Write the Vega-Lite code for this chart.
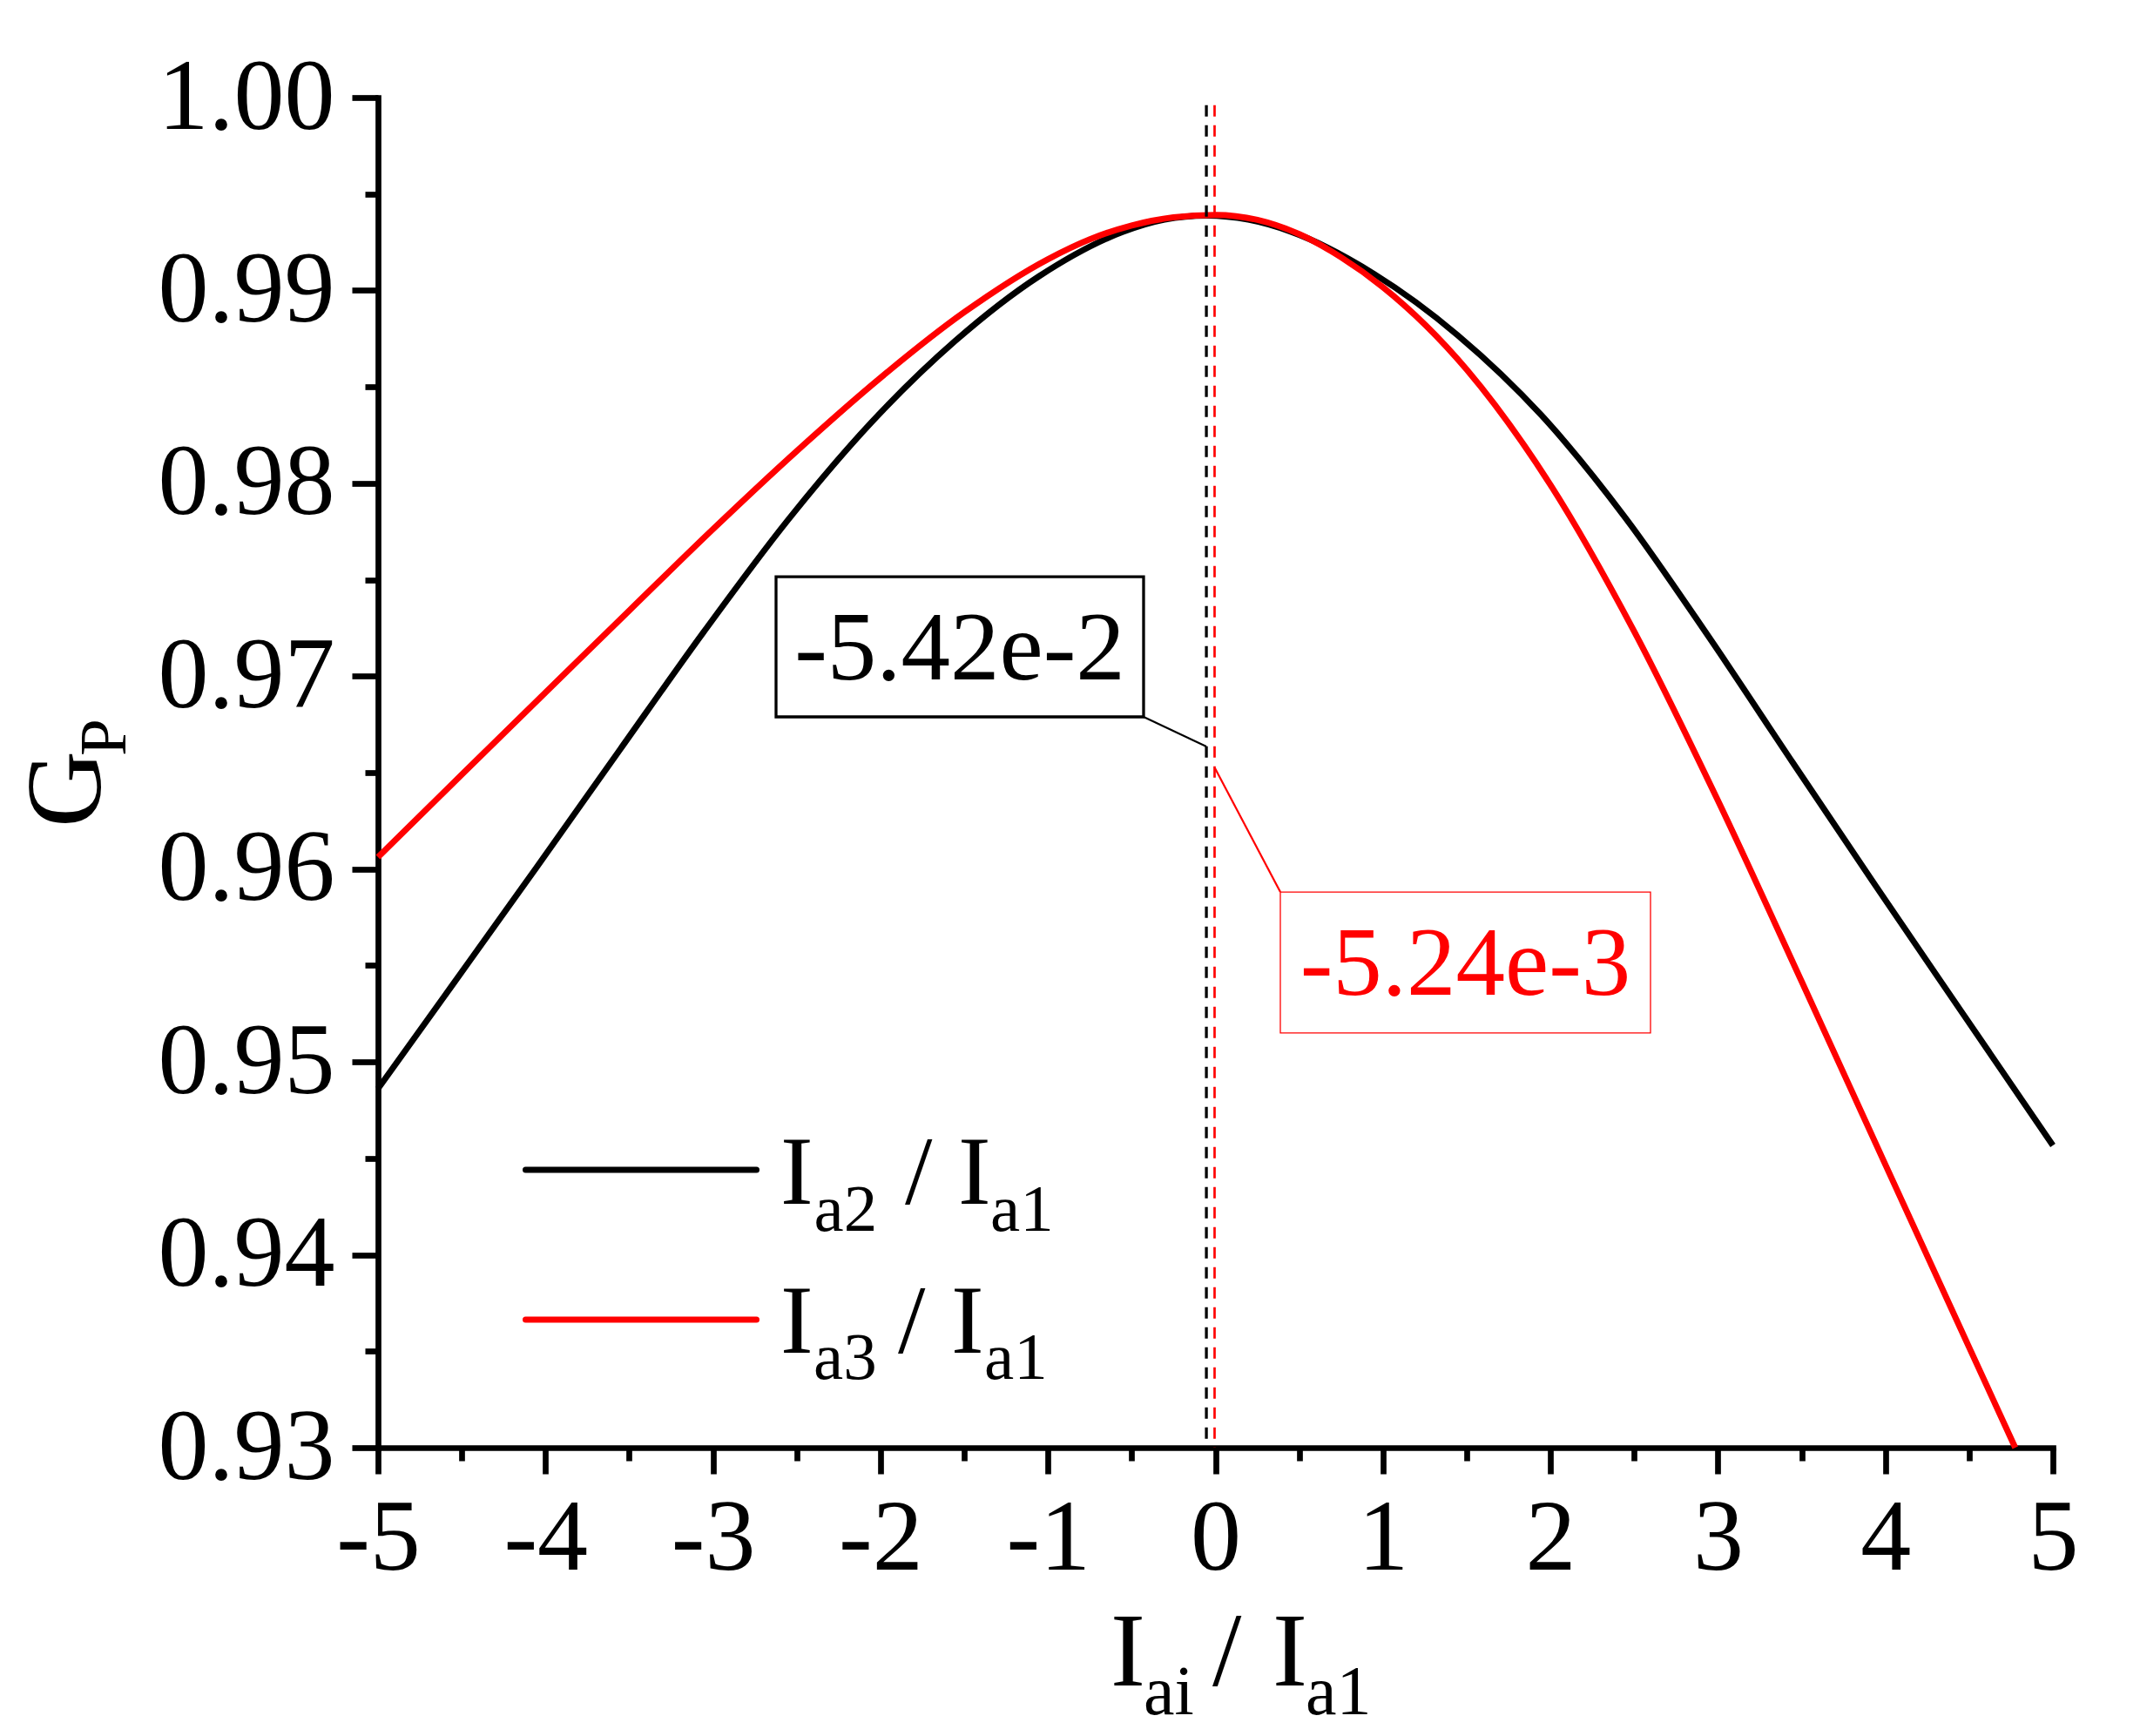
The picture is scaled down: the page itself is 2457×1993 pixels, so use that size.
{
  "$schema": "https://vega.github.io/schema/vega-lite/v6.json",
  "width": 1923,
  "height": 1550,
  "autosize": {"type": "none"},
  "padding": {"left": 434, "top": 112, "right": 100, "bottom": 331},
  "background": "white",
  "config": {"view": {"stroke": null}, "font": "Liberation Serif"},
  "datasets": {
    "curve2": [
      {"x": -5.0, "y": 0.94861}, {"x": -4.554, "y": 0.95401}, {"x": -4.054, "y": 0.96008}, {"x": -3.554, "y": 0.96621},
      {"x": -3.054, "y": 0.97231}, {"x": -2.554, "y": 0.97808}, {"x": -2.054, "y": 0.98316}, {"x": -1.554, "y": 0.98738},
      {"x": -1.054, "y": 0.99073}, {"x": -0.554, "y": 0.99303}, {"x": -0.304, "y": 0.99367}, {"x": -0.054, "y": 0.99388},
      {"x": 0.196, "y": 0.99367}, {"x": 0.446, "y": 0.99306}, {"x": 0.946, "y": 0.99086}, {"x": 1.446, "y": 0.98768},
      {"x": 1.946, "y": 0.98353}, {"x": 2.446, "y": 0.97823}, {"x": 2.946, "y": 0.97203}, {"x": 3.446, "y": 0.96553},
      {"x": 3.946, "y": 0.95908}, {"x": 4.446, "y": 0.95271}, {"x": 5.0, "y": 0.94567}
    ],
    "curve3": [
      {"x": -5.0, "y": 0.96062}, {"x": -4.5, "y": 0.9649}, {"x": -4.0, "y": 0.96916}, {"x": -3.5, "y": 0.9734},
      {"x": -3.0, "y": 0.97762}, {"x": -2.5, "y": 0.98167}, {"x": -2.0, "y": 0.98547}, {"x": -1.5, "y": 0.98887},
      {"x": -1.0, "y": 0.99162}, {"x": -0.75, "y": 0.99265}, {"x": -0.5, "y": 0.99337}, {"x": -0.25, "y": 0.99379},
      {"x": 0.0, "y": 0.99392}, {"x": 0.25, "y": 0.99366}, {"x": 0.5, "y": 0.99292}, {"x": 0.75, "y": 0.99172},
      {"x": 1.0, "y": 0.99017}, {"x": 1.5, "y": 0.9859}, {"x": 2.0, "y": 0.97992}, {"x": 2.5, "y": 0.97232},
      {"x": 3.0, "y": 0.96355}, {"x": 3.5, "y": 0.95417}, {"x": 4.0, "y": 0.94467}, {"x": 4.5, "y": 0.9352},
      {"x": 4.775, "y": 0.93}
    ],
    "vline2": [{"x": -0.0542, "y": 0.9996, "y2": 0.93}],
    "vline3": [{"x": -0.00524, "y": 0.9996, "y2": 0.93}],
    "box2": [{"x": -2.6235, "x2": -0.4291, "y": 0.97516, "y2": 0.96789}],
    "box3": [{"x": 0.3874, "x2": 2.5975, "y": 0.95881, "y2": 0.9515}],
    "lead2": [{"x": -0.4291, "x2": -0.0546, "y": 0.96789, "y2": 0.96636}],
    "lead3": [{"x": 0.3874, "x2": -0.0026, "y": 0.95881, "y2": 0.96523}],
    "ann2": [{"x": -1.5263, "y": 0.96983, "t": "-5.42e-2"}],
    "ann3": [{"x": 1.4925, "y": 0.95348, "t": "-5.24e-3"}],
    "leg2": [{"x": -4.1186, "x2": -2.7405, "y": 0.94441}],
    "leg3": [{"x": -4.1186, "x2": -2.7405, "y": 0.93664}],
    "bigText": [
      {"x": -2.5975, "y": 0.94264, "t": "I"}, {"x": -1.8539, "y": 0.94264, "t": "/"}, {"x": -1.5367, "y": 0.94264, "t": "I"},
      {"x": -2.5975, "y": 0.93491, "t": "I"}, {"x": -1.8955, "y": 0.93491, "t": "/"}, {"x": -1.5783, "y": 0.93491, "t": "I"}
    ],
    "subText": [
      {"x": -2.3973, "y": 0.94124, "t": "a2"}, {"x": -1.3443, "y": 0.94124, "t": "a1"},
      {"x": -2.3999, "y": 0.93356, "t": "a3"}, {"x": -1.3807, "y": 0.93356, "t": "a1"}
    ],
    "xTitleBig": [
      {"x": -0.6266, "y": 0.91767, "t": "I"}, {"x": -0.0182, "y": 0.91767, "t": "/"}, {"x": 0.3406, "y": 0.91767, "t": "I"}
    ],
    "xTitleSub": [
      {"x": -0.429, "y": 0.91618, "t": "ai"}, {"x": 0.5382, "y": 0.91618, "t": "a1"}
    ],
    "yTitleBig": [{"x": -6.6589, "y": 0.96216, "t": "G"}],
    "yTitleSub": [{"x": -6.5081, "y": 0.96586, "t": "P"}]
  },
  "encoding": {
    "x": {
      "field": "x", "type": "quantitative",
      "scale": {"domain": [-5, 5], "nice": false, "zero": false},
      "axis": {
        "title": null, "grid": false,
        "values": [-5, -4.5, -4, -3.5, -3, -2.5, -2, -1.5, -1, -0.5, 0, 0.5, 1, 1.5, 2, 2.5, 3, 3.5, 4, 4.5, 5],
        "labelExpr": "datum.value % 1 == 0 ? '' + datum.value : ''",
        "tickSize": {"condition": {"test": "datum.value % 1 != 0", "value": 15}, "value": 30},
        "domainColor": "#000000", "domainWidth": 6.7, "domainCap": "square",
        "tickColor": "#000000", "tickWidth": 6.7,
        "labelFont": "Liberation Serif", "labelFontSize": 116, "labelColor": "#000000", "labelLimit": 0,
        "labelPadding": 17, "labelFlush": false, "labelOverlap": false, "labelBound": false
      }
    },
    "y": {
      "field": "y", "type": "quantitative",
      "scale": {"domain": [0.93, 1.0], "nice": false, "zero": false},
      "axis": {
        "title": null, "grid": false,
        "values": [0.93, 0.935, 0.94, 0.945, 0.95, 0.955, 0.96, 0.965, 0.97, 0.975, 0.98, 0.985, 0.99, 0.995, 1.0],
        "labelExpr": "round(datum.value * 1000) % 10 == 0 ? format(datum.value, '.2f') : ''",
        "tickSize": {"condition": {"test": "round(datum.value * 1000) % 10 != 0", "value": 15}, "value": 30},
        "domainColor": "#000000", "domainWidth": 6.7, "domainCap": "square",
        "tickColor": "#000000", "tickWidth": 6.7,
        "labelFont": "Liberation Serif", "labelFontSize": 116, "labelColor": "#000000", "labelLimit": 0,
        "labelPadding": 20, "labelFlush": false, "labelOverlap": false, "labelBound": false
      }
    }
  },
  "layer": [
    {
      "data": {"name": "curve2"},
      "mark": {"type": "line", "color": "#000000", "strokeWidth": 7, "interpolate": "monotone", "strokeCap": "butt"}
    },
    {
      "data": {"name": "curve3"},
      "mark": {"type": "line", "color": "#ff0000", "strokeWidth": 7, "interpolate": "monotone", "strokeCap": "butt"}
    },
    {
      "data": {"name": "vline2"},
      "mark": {"type": "rule", "color": "#000000", "strokeWidth": 3.3, "strokeDash": [13, 10]},
      "encoding": {"y2": {"field": "y2"}}
    },
    {
      "data": {"name": "vline3"},
      "mark": {"type": "rule", "color": "#ff0000", "strokeWidth": 2.7, "strokeDash": [13, 10]},
      "encoding": {"y2": {"field": "y2"}}
    },
    {
      "data": {"name": "box2"},
      "mark": {"type": "rect", "filled": false, "color": "#000000", "strokeWidth": 3.3},
      "encoding": {"x2": {"field": "x2"}, "y2": {"field": "y2"}}
    },
    {
      "data": {"name": "box3"},
      "mark": {"type": "rect", "filled": false, "color": "#ff0000", "strokeWidth": 1.3},
      "encoding": {"x2": {"field": "x2"}, "y2": {"field": "y2"}}
    },
    {
      "data": {"name": "lead2"},
      "mark": {"type": "rule", "color": "#000000", "strokeWidth": 2.2},
      "encoding": {"x2": {"field": "x2"}, "y2": {"field": "y2"}}
    },
    {
      "data": {"name": "lead3"},
      "mark": {"type": "rule", "color": "#ff0000", "strokeWidth": 2.2},
      "encoding": {"x2": {"field": "x2"}, "y2": {"field": "y2"}}
    },
    {
      "data": {"name": "ann2"},
      "mark": {"type": "text", "font": "Liberation Serif", "fontSize": 113, "color": "#000000", "align": "center", "baseline": "alphabetic"},
      "encoding": {"text": {"field": "t"}}
    },
    {
      "data": {"name": "ann3"},
      "mark": {"type": "text", "font": "Liberation Serif", "fontSize": 113, "color": "#ff0000", "align": "center", "baseline": "alphabetic"},
      "encoding": {"text": {"field": "t"}}
    },
    {
      "data": {"name": "leg2"},
      "mark": {"type": "rule", "color": "#000000", "strokeWidth": 7, "strokeCap": "round"},
      "encoding": {"x2": {"field": "x2"}}
    },
    {
      "data": {"name": "leg3"},
      "mark": {"type": "rule", "color": "#ff0000", "strokeWidth": 7, "strokeCap": "round"},
      "encoding": {"x2": {"field": "x2"}}
    },
    {
      "data": {"name": "bigText"},
      "mark": {"type": "text", "font": "Liberation Serif", "fontSize": 113, "color": "#000000", "align": "left", "baseline": "alphabetic"},
      "encoding": {"text": {"field": "t"}}
    },
    {
      "data": {"name": "subText"},
      "mark": {"type": "text", "font": "Liberation Serif", "fontSize": 77, "color": "#000000", "align": "left", "baseline": "alphabetic"},
      "encoding": {"text": {"field": "t"}}
    },
    {
      "data": {"name": "xTitleBig"},
      "mark": {"type": "text", "font": "Liberation Serif", "fontSize": 120, "color": "#000000", "align": "left", "baseline": "alphabetic"},
      "encoding": {"text": {"field": "t"}}
    },
    {
      "data": {"name": "xTitleSub"},
      "mark": {"type": "text", "font": "Liberation Serif", "fontSize": 80, "color": "#000000", "align": "left", "baseline": "alphabetic"},
      "encoding": {"text": {"field": "t"}}
    },
    {
      "data": {"name": "yTitleBig"},
      "mark": {"type": "text", "font": "Liberation Serif", "fontSize": 122, "color": "#000000", "align": "left", "baseline": "alphabetic", "angle": 270},
      "encoding": {"text": {"field": "t"}}
    },
    {
      "data": {"name": "yTitleSub"},
      "mark": {"type": "text", "font": "Liberation Serif", "fontSize": 77, "color": "#000000", "align": "left", "baseline": "alphabetic", "angle": 270},
      "encoding": {"text": {"field": "t"}}
    }
  ]
}
